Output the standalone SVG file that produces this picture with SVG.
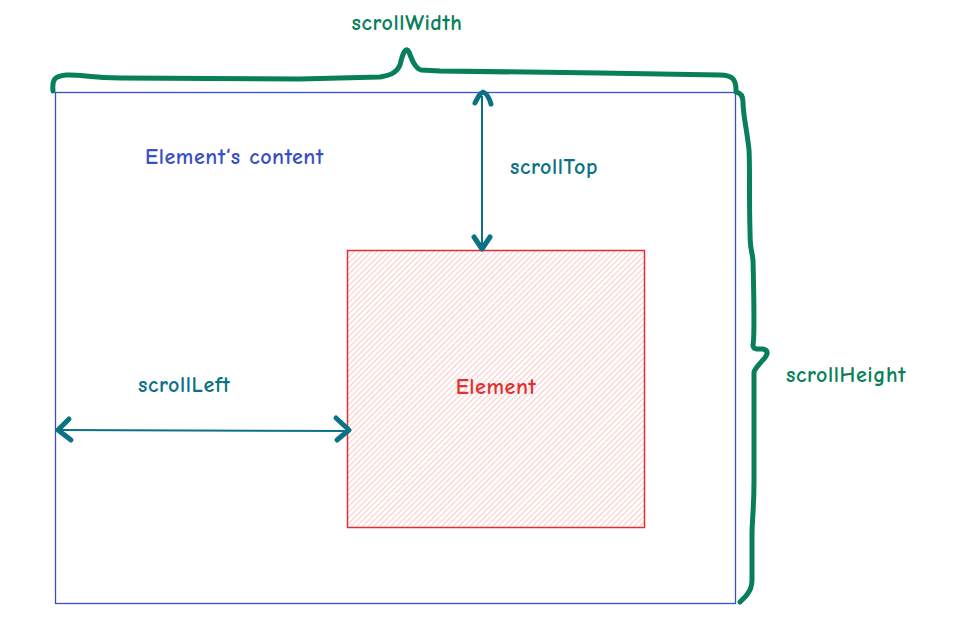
<svg xmlns="http://www.w3.org/2000/svg" width="953" height="636" viewBox="0 0 953 636">
  <defs>
    <pattern id="hatch" patternUnits="userSpaceOnUse" width="4" height="4" patternTransform="rotate(45)">
      <line x1="0" y1="0" x2="0" y2="4" stroke="#ffa8a8" stroke-width="1.3"/>
    </pattern>
  </defs>
  <style>
    text { font-family: "Comic Neue", "Liberation Sans", sans-serif; font-size: 22px; font-weight: bold; letter-spacing: 0.6px; }
    .green { fill: #087f5b; }
    .teal { fill: #0b7285; }
    .blue { fill: #3b4fc4; }
    .red { fill: #e03131; }
    .brace { fill: none; stroke: #087f5b; stroke-width: 5; stroke-linecap: round; stroke-linejoin: round; }
    .arrow { fill: none; stroke: #0b7285; stroke-width: 2; }
    .head { fill: none; stroke: #0b7285; stroke-width: 5; stroke-linecap: round; stroke-linejoin: round; }
  </style>
  <rect width="953" height="636" fill="#ffffff"/>

  <g id="content">
    <rect x="55.5" y="92.5" width="680" height="511" fill="none" stroke="#3b4fc4" stroke-width="1.3"/>
    <text class="blue" x="145" y="164">Element‘s content</text>
  </g>

  <g id="element">
    <rect x="347.5" y="250.5" width="297" height="277" fill="url(#hatch)" stroke="#e03131" stroke-width="1.5"/>
    <text class="red" x="496" y="394" text-anchor="middle">Element</text>
  </g>

  <g id="scrollWidth">
    <path class="brace" d="M53 91 C52 80 54 76 66 75 C80 74 90 78 120 78 L300 79 L380 77 C392 75 397 72 400 65 C403 52 406 46 409 52 C412 60 415 68 421 70 L440 71 L600 73 L720 75 C733 75 736 80 736 90"/>
    <text class="green" x="407" y="30" text-anchor="middle">scrollWidth</text>
  </g>

  <g id="scrollHeight">
    <path class="brace" d="M736 92 C741 93 743 97 743 102 C743 115 747 130 749 150 C750 165 749 200 750 230 C750 250 751 245 753 260 C754 300 754 340 753 345 C753 350 758 349 763 349 C770 351 767 356 762 361 C757 367 755 369 754 372 L754 420 L754 480 C754 510 752 520 752 535 L752 580 C752 590 748 593 746 596 C744 598 742 600 740 602"/>
    <text class="green" x="786" y="382">scrollHeight</text>
  </g>

  <g id="connectors">
    <g id="scrollTop-arrow">
      <line class="arrow" x1="482" y1="96" x2="482" y2="250"/>
      <path class="head" d="M475 103 C478 97 480 93 483 92 C486 93 489 97 491 104"/>
      <path class="head" d="M474 237 L482 249 L490 237"/>
      <text class="teal" x="510" y="174">scrollTop</text>
    </g>
    <g id="scrollLeft-arrow">
      <line class="arrow" x1="58" y1="430" x2="348" y2="431"/>
      <path class="head" d="M69 419 L58 430 L71 440"/>
      <path class="head" d="M336 418 L349 430 L337 440"/>
      <text class="teal" x="138" y="392">scrollLeft</text>
    </g>
  </g>
</svg>
